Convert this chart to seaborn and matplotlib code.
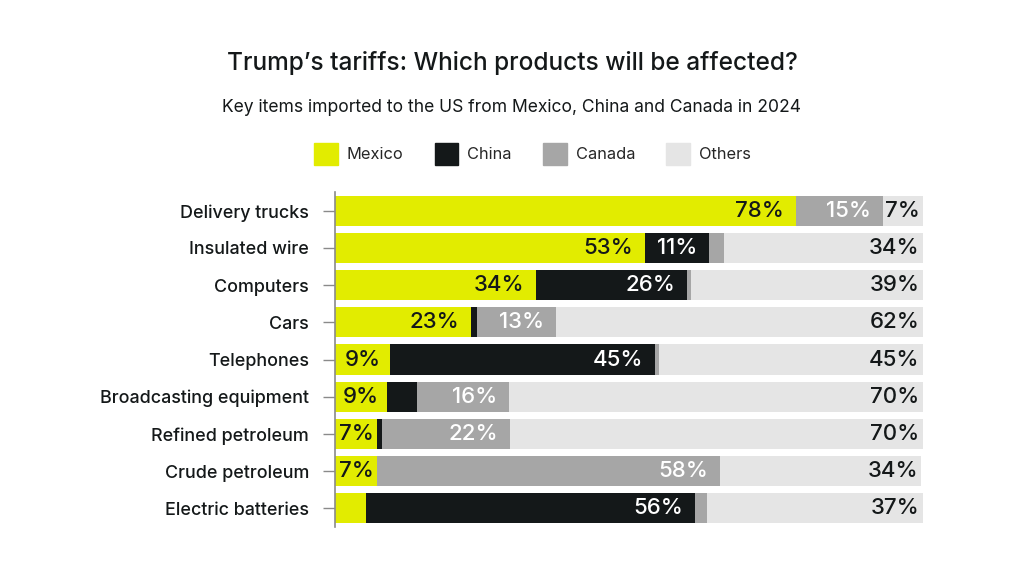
import pandas as pd
import matplotlib.pyplot as plt
import matplotlib.patches as mpatches
import seaborn as sns

sns.set_theme(style="white")
plt.rcParams['font.family'] = ['Inter', 'DejaVu Sans']

# data (share of US imports, %)
products = ['Delivery trucks', 'Insulated wire', 'Computers', 'Cars', 'Telephones',
            'Broadcasting equipment', 'Refined petroleum', 'Crude petroleum', 'Electric batteries']
mexico = [78.4, 52.8, 34.3, 23.1, 9.4, 8.8, 7.2, 7.2, 5.3]
china = [0.0, 10.8, 25.6, 1.1, 45.1, 5.2, 0.8, 0.0, 55.9]
canada = [14.8, 2.6, 0.7, 13.4, 0.6, 15.7, 21.8, 58.4, 2.2]
others = [6.8, 33.8, 39.4, 62.4, 44.9, 70.3, 70.2, 34.2, 36.6]

countries = ['Mexico', 'China', 'Canada', 'Others']
colors = ['#e2ec00', '#141819', '#a6a6a6', '#e5e5e5']
text_colors = ['#141819', 'white', 'white', '#141819']

df = pd.DataFrame({'product': products, 'Mexico': mexico, 'China': china,
                   'Canada': canada, 'Others': others})
cum = df[countries].cumsum(axis=1)

fig = plt.figure(figsize=(10.24, 5.72), dpi=100)
ax = fig.add_axes([0.327, 0.079, 0.574, 0.585])

# stacked bars: draw cumulative totals from the longest down
for c, col in zip(reversed(countries), reversed(colors)):
    sns.barplot(x=cum[c], y=df['product'], color=col, orient='h', width=0.81,
                saturation=1, ax=ax, linewidth=0)

# value labels
for i, row in df.iterrows():
    for c, tc in zip(countries, text_colors):
        v = row[c]
        if v < 6:
            continue
        end = cum.loc[i, c]
        if c == 'Others':
            x, ha = end - 0.5, 'right'
        elif v < 10:
            x, ha = end - v / 2, 'center'  # narrow segment: centre the label
        else:
            x, ha = end - 2.0, 'right'
        ax.text(x, i, f"{round(v)}%", ha=ha, va='center',
                color=tc, fontsize=16, fontweight='medium')

ax.set_xlim(0, 100)
ax.set_ylim(8.5, -0.5)
ax.set_xlabel('')
ax.set_ylabel('')
ax.set_xticks([])
for s in ['top', 'right', 'bottom']:
    ax.spines[s].set_visible(False)
ax.spines['left'].set_color('#8a8a8a')
ax.spines['left'].set_linewidth(1.2)
ax.tick_params(axis='y', left=True, length=8.6, width=1, color='#8a8a8a',
               pad=10, labelsize=12.9, labelcolor='#141819')
for lbl in ax.get_yticklabels():
    lbl.set_fontweight('medium')

fig.text(0.5, 0.889, "Trump’s tariffs: Which products will be affected?",
         ha='center', va='center', fontsize=17.6, fontweight='medium', color='#141819')
fig.text(0.5, 0.812, "Key items imported to the US from Mexico, China and Canada in 2024",
         ha='center', va='center', fontsize=12.6, color='#141819')

handles = [mpatches.Patch(color=col, label=c) for c, col in zip(countries, colors)]
fig.legend(handles=handles, loc='center', bbox_to_anchor=(0.52, 0.731), ncol=4,
           frameon=False, fontsize=11.8, handlelength=1.45, handleheight=1.75,
           handletextpad=0.55, columnspacing=1.9)

fig.savefig('out.png', dpi=100)
